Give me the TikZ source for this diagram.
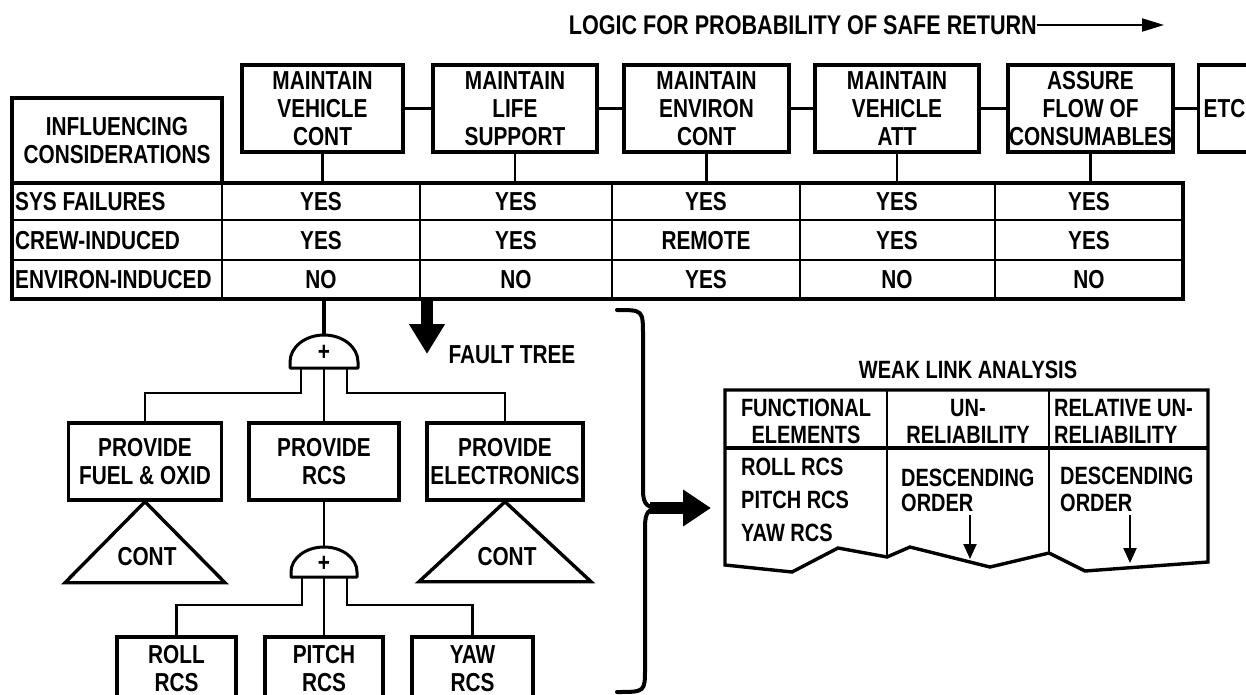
\documentclass[tikz,border=0pt]{standalone}
\usepackage{fontspec}
\setmainfont{Liberation Sans}[FakeStretch=0.8]
\usetikzlibrary{arrows.meta,positioning,calc}
\newcommand{\lbl}{\fontsize{26}{28}\selectfont\bfseries}
\newcommand{\wlbl}{\fontsize{25}{27}\selectfont\bfseries}
\tikzset{
  fnbox/.style={draw, line width=3.4pt, inner sep=1pt, align=center, font=\lbl},
  txt/.style={font=\lbl, inner sep=1pt},
  wtxt/.style={font=\wlbl, inner sep=1pt},
  tabout/.style={line width=3.4pt},
  tabin/.style={line width=2.2pt},
  conn/.style={line width=2.2pt},
  spine/.style={line width=4.5pt},
  gatebody/.style={line width=3pt, line join=round},
  bigarr/.style={line width=12pt, -{Triangle[length=30pt,width=34pt]}},
  thinarr/.style={line width=2.2pt, -{Triangle[length=15pt,width=13pt]}},
  titlearr/.style={line width=2pt, -{Triangle[length=22pt,width=13pt]}},
  bracel/.style={line width=4pt, line cap=round},
}

\begin{document}
\begin{tikzpicture}[x=1pt,y=-1pt]
  \useasboundingbox (0,0) rectangle (1246,695);
  \clip (0,0) rectangle (1246,695);

  % title
  \node[txt, anchor=east, inner sep=0pt, font=\fontsize{27}{28}\selectfont\bfseries] (logic) at (1037,25) {LOGIC FOR PROBABILITY OF SAFE RETURN};
  \coordinate (logicend) at (1164,25);
  \draw[titlearr] (logic.east) -- (logicend);

  % functions
  \node[fnbox, minimum width=161pt, minimum height=87pt] (vcont) at (322.5,108.5) {MAINTAIN\\VEHICLE\\CONT};
  \node[fnbox, minimum width=164pt, minimum height=87pt] (life) at (515,108.5) {MAINTAIN\\LIFE\\SUPPORT};
  \node[fnbox, minimum width=165pt, minimum height=87pt] (envc) at (706.5,108.5) {MAINTAIN\\ENVIRON\\CONT};
  \node[fnbox, minimum width=164pt, minimum height=87pt] (vatt) at (897,108.5) {MAINTAIN\\VEHICLE\\ATT};
  \node[fnbox, minimum width=165pt, minimum height=87pt] (cons) at (1090.5,108.5) {ASSURE\\FLOW OF\\CONSUMABLES};
  \node[fnbox, anchor=west, align=left, inner xsep=5pt, text width=54pt, minimum height=87pt] (etc) at (1197,108.5) {ETC};
  \draw[conn] (vcont.east) -- (life.west);
  \draw[conn] (life.east) -- (envc.west);
  \draw[conn] (envc.east) -- (vatt.west);
  \draw[conn] (vatt.east) -- (cons.west);
  \draw[conn] (cons.east) -- (etc.west);

  % considerations table
  \node[fnbox, minimum width=210pt, minimum height=85pt] (consid) at (117,140.5) {INFLUENCING\\CONSIDERATIONS};
  \draw[tabout] (12,183) rectangle (1183,299);
  \draw[tabin] (12,220) -- (1183,220) (12,260) -- (1183,260);
  \draw[tabin] (222,183) -- (222,299) (420,183) -- (420,299) (612,183) -- (612,299)
    (800,183) -- (800,299) (995,183) -- (995,299);
  \draw[conn] (vcont.south) -- (vcont.south |- consid.south);
  \draw[conn] (life.south) -- (life.south |- consid.south);
  \draw[conn] (envc.south) -- (envc.south |- consid.south);
  \draw[conn] (vatt.south) -- (vatt.south |- consid.south);
  \draw[conn] (cons.south) -- (cons.south |- consid.south);

  \node[txt, anchor=west] (sysl) at (14,202) {SYS FAILURES};
  \node[txt, anchor=west] (crewl) at (14,241) {CREW-INDUCED};
  \node[txt, anchor=west] (envl) at (14,280) {ENVIRON-INDUCED};
  \node[txt] (sys1) at (321,202) {YES};
  \node[txt] (sys2) at (516,202) {YES};
  \node[txt] (sys3) at (706,202) {YES};
  \node[txt] (sys4) at (897,202) {YES};
  \node[txt] (sys5) at (1089,202) {YES};
  \node[txt] (crew1) at (321,241) {YES};
  \node[txt] (crew2) at (516,241) {YES};
  \node[txt] (crew3) at (706,241) {REMOTE};
  \node[txt] (crew4) at (897,241) {YES};
  \node[txt] (crew5) at (1089,241) {YES};
  \node[txt] (env1) at (321,280) {NO};
  \node[txt] (env2) at (516,280) {NO};
  \node[txt] (env3) at (706,280) {YES};
  \node[txt] (env4) at (897,280) {NO};
  \node[txt] (env5) at (1089,280) {NO};

  % fault tree
  \coordinate (ftop) at (324,299);
  \coordinate (gAtop) at (324,336);
  \draw[spine] (ftop) -- (gAtop);
  \draw[gatebody] (290,368) -- (290,362) arc[start angle=180, end angle=360, x radius=34, y radius=27] -- (358,368) -- cycle;
  \node[txt] (gA) at (324,353) {+};
  \coordinate (gAl) at (301,368);
  \coordinate (gAc) at (324,368);
  \coordinate (gAr) at (347,368);

  \node[fnbox, minimum width=153pt, minimum height=77pt] (fuel) at (145,461.5) {PROVIDE\\FUEL \& OXID};
  \node[fnbox, minimum width=150pt, minimum height=77pt] (prcs) at (324,461.5) {PROVIDE\\RCS};
  \node[fnbox, minimum width=156pt, minimum height=77pt] (elec) at (505,461.5) {PROVIDE\\ELECTRONICS};
  \draw[conn] (gAl) -- ++(0,25) -| (fuel.north);
  \draw[conn] (gAc) -- (prcs.north);
  \draw[conn] (gAr) -- ++(0,25) -| (elec.north);

  \draw[tabout, line join=miter] (fuel.south) -- ++(-80,81) -- ++(160,0) -- cycle;
  \node[txt] (cont1) at (147,557) {CONT};
  \draw[tabout, line join=miter] (elec.south) -- ++(-86,80) -- ++(172,0) -- cycle;
  \node[txt] (cont2) at (507,557) {CONT};

  \coordinate (gBtop) at (324,547);
  \draw[conn] (prcs.south) -- (gBtop);
  \draw[gatebody] (291,577) -- (291,572) arc[start angle=180, end angle=360, x radius=33, y radius=25] -- (357,577) -- cycle;
  \node[txt] (gB) at (324,564) {+};
  \coordinate (gBl) at (302,577);
  \coordinate (gBc) at (324,577);
  \coordinate (gBr) at (347,577);

  \node[fnbox, minimum width=119pt, minimum height=64pt] (roll) at (176.5,669) {ROLL\\RCS};
  \node[fnbox, minimum width=118pt, minimum height=64pt] (pitch) at (324,669) {PITCH\\RCS};
  \node[fnbox, minimum width=121pt, minimum height=64pt] (yaw) at (472.5,669) {YAW\\RCS};
  \draw[conn] (gBl) -- ++(0,28) -| (roll.north);
  \draw[conn] (gBc) -- (pitch.north);
  \draw[conn] (gBr) -- ++(0,28) -| (yaw.north);

  \coordinate (ftarr0) at (427,299);
  \coordinate (ftarr1) at (427,354);
  \draw[bigarr] (ftarr0) -- (ftarr1);
  \node[txt] (ftlbl) at (512,355) {FAULT TREE};

  % brace to weak link
  \draw[bracel] (617,310) .. controls (643,310) .. (643,336) -- (643,490)
    .. controls (643,506) and (648,508) .. (662,508);
  \draw[bracel] (662,508) .. controls (648,508) and (645,512) .. (645,528) -- (645,668)
    .. controls (645,692) .. (617,692);
  \coordinate (brmid) at (650,508);
  \coordinate (wlin) at (711,508);
  \draw[line width=12pt, -{Triangle[length=28pt,width=35pt]}] (brmid) -- (wlin);

  % weak link analysis
  \node[wtxt] (wltitle) at (968,370) {WEAK LINK ANALYSIS};
  \draw[tabout, line join=miter] (725,390) -- (1208,390) -- (1208,562) -- (1085,571) -- (1049,553)
    -- (990,567) -- (910,547) -- (887,557) -- (838,548) -- (792,572) -- (725,565) -- cycle;
  \draw[tabout] (725,448) -- (1208,448);
  \draw[tabin] (887,390) -- (887,557) (1049,390) -- (1049,553);
  \node[wtxt, align=center] (wlh1) at (806,421) {FUNCTIONAL\\ELEMENTS};
  \node[wtxt, align=center] (wlh2) at (968,421) {UN-\\RELIABILITY};
  \node[wtxt, align=left, anchor=west] (wlh3) at (1053,421) {RELATIVE UN-\\RELIABILITY};
  \node[wtxt, align=left, anchor=west, font=\fontsize{25}{33}\selectfont\bfseries] (wlc1) at (740,500) {ROLL RCS\\PITCH RCS\\YAW RCS};
  \node[wtxt, align=left, anchor=west, font=\fontsize{25}{25}\selectfont\bfseries] (wlc2) at (900,490) {DESCENDING\\ORDER};
  \node[wtxt, align=left, anchor=west, font=\fontsize{25}{27}\selectfont\bfseries] (wlc3) at (1059,489) {DESCENDING\\ORDER};
  \coordinate (dn1a) at (970,515);
  \coordinate (dn1b) at (970,559);
  \coordinate (dn2a) at (1130,515);
  \coordinate (dn2b) at (1130,563);
  \draw[thinarr] (dn1a) -- (dn1b);
  \draw[thinarr] (dn2a) -- (dn2b);
\end{tikzpicture}
\end{document}
